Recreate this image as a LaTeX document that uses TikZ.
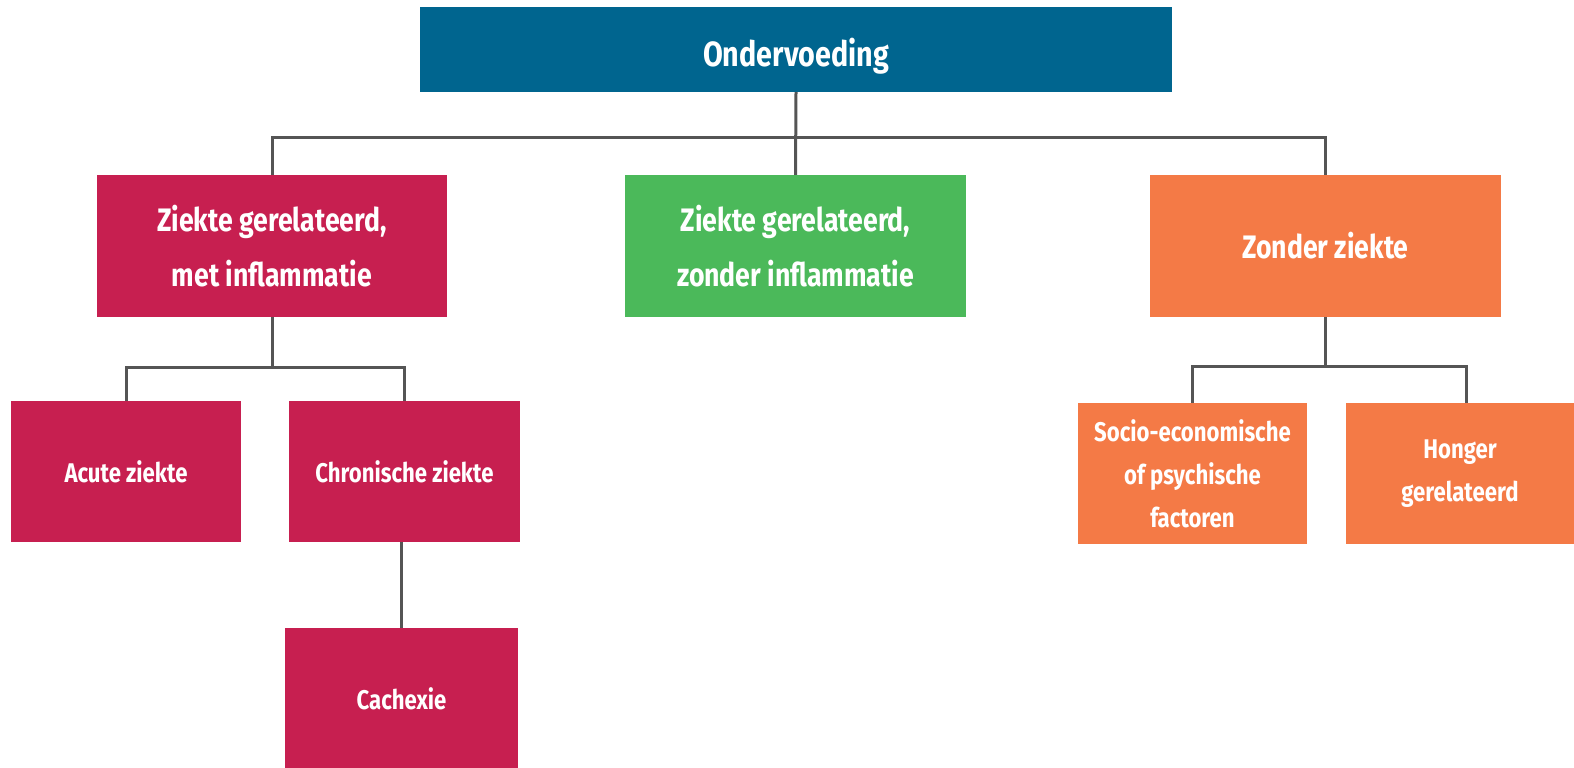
\documentclass[tikz,border=0pt]{standalone}
\usepackage{fontspec}
\setmainfont{Fira Sans}[FakeStretch=0.82]
\definecolor{topblue}{RGB}{0,101,143}
\definecolor{redbox}{RGB}{199,31,80}
\definecolor{greenbox}{RGB}{75,185,90}
\definecolor{orangebox}{RGB}{244,122,70}
\definecolor{conncol}{RGB}{85,85,85}
\tikzset{
  box/.style={rectangle, inner sep=0pt, text=white, align=center, font=\bfseries},
  lvlone/.style={box, font=\bfseries\fontsize{35}{40}\selectfont},
  lvltwo/.style={box, font=\bfseries\fontsize{32.5}{55}\selectfont},
  lvlthree/.style={box, font=\bfseries\fontsize{27}{43}\selectfont},
  conn/.style={draw=conncol, line width=3pt}
}
\begin{document}
\begin{tikzpicture}[x=1pt,y=-1pt]
\useasboundingbox (0,0) rectangle (1574,768);
\node[lvlone, fill=topblue, minimum width=752pt, minimum height=85pt] (top) at (796,49.5) {\raisebox{-7pt}[\height][\depth]{Ondervoeding}};
\node[lvltwo, fill=redbox, minimum width=350pt, minimum height=142pt] (r1) at (272,246) {Ziekte gerelateerd,\\met inflammatie};
\node[lvltwo, fill=greenbox, minimum width=341pt, minimum height=142pt] (g) at (795.5,246) {Ziekte gerelateerd,\\zonder inflammatie};
\node[lvltwo, fill=orangebox, minimum width=351pt, minimum height=142pt] (o) at (1325.5,246) {Zonder ziekte};
\node[lvlthree, fill=redbox, minimum width=230pt, minimum height=141pt] (a) at (126,471.5) {Acute ziekte};
\node[lvlthree, fill=redbox, minimum width=231pt, minimum height=141pt] (c) at (404.5,471.5) {Chronische ziekte};
\node[lvlthree, fill=redbox, minimum width=233pt, minimum height=141pt] (ca) at (401.5,698.5) {Cachexie};
\node[lvlthree, fill=orangebox, minimum width=229pt, minimum height=141pt] (s) at (1192.5,473.5) {Socio-economische\\of psychische\\factoren};
\node[lvlthree, fill=orangebox, minimum width=228pt, minimum height=141pt] (h) at (1460,473.5) {Honger\\gerelateerd};
\coordinate (b1) at (0,137);
\coordinate (b2) at (0,367);
\coordinate (b3) at (0,366);
\coordinate (hn) at ([xshift=6pt]h.north);
\draw[conn] (top.south) -- (g.north);
\draw[conn] (r1.north) -- (r1.north |- b1) -- (o.north |- b1) -- (o.north);
\draw[conn] (r1.south) -- (r1.south |- b2);
\draw[conn] (a.north) -- (a.north |- b2) -- (c.north |- b2) -- (c.north);
\draw[conn] (ca.north |- c.south) -- (ca.north);
\draw[conn] (o.south) -- (o.south |- b3);
\draw[conn] (s.north) -- (s.north |- b3) -- (hn |- b3) -- (hn);
\end{tikzpicture}
\end{document}
